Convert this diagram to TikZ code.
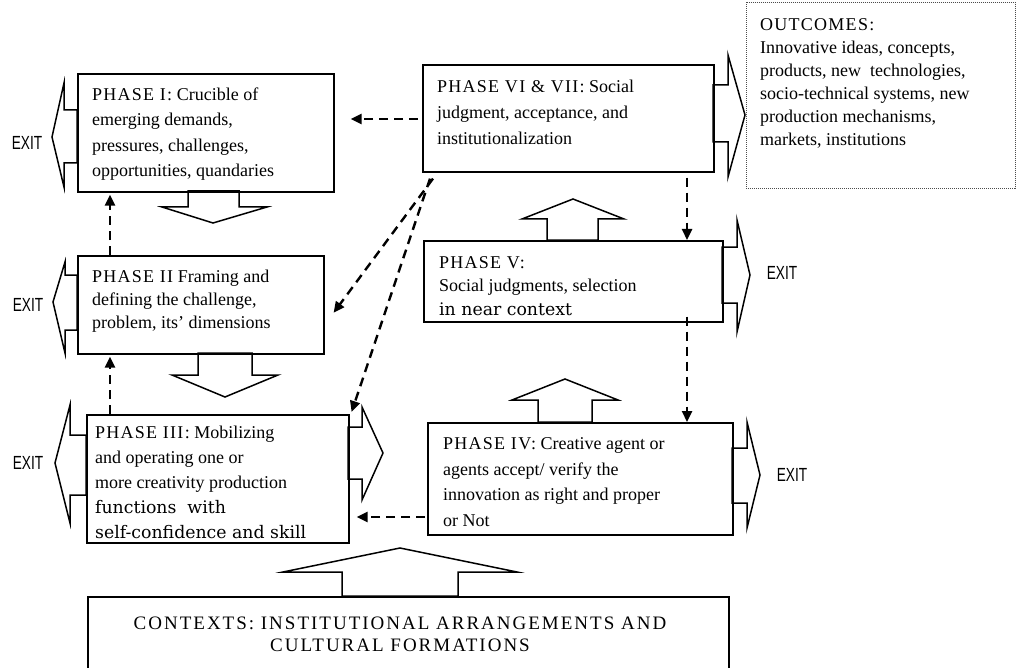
\documentclass[tikz,border=0pt]{standalone}
\usepackage{fontspec}
\newfontfamily\gar{Liberation Serif}
\newfontfamily\exitf{Liberation Sans}
\newfontfamily\capsp[LetterSpace=7]{Liberation Serif}
\newfontfamily\ctxf[LetterSpace=10.5]{Liberation Serif}
\newfontfamily\cent{DejaVu Serif}
\usetikzlibrary{arrows.meta,calc}
\newcommand{\lmline}[1]{{\cent\fontsize{17.3}{25}\selectfont #1}}
\newcommand{\ph}[1]{{\capsp #1}}
\begin{document}
\begin{tikzpicture}[x=1pt,y=-1pt,
  box/.style={draw, line width=1.6pt, inner sep=0pt, anchor=north west},
  outbox/.style={draw=black!70, line width=0.9pt, dash pattern=on 1pt off 1pt, inner sep=0pt, anchor=north west},
  blk/.style={draw, line width=1.5pt, fill=white},
  txt/.style={inner sep=0pt, anchor=west, align=left, font=\gar\fontsize{18}{#1}\selectfont},
  exitlbl/.style={inner sep=0pt, font=\exitf\fontsize{19}{19}\selectfont},
  dasharrow/.style={line width=2.4pt, dash pattern=on 9pt off 6pt, -{Triangle[length=11pt,width=10pt]}},
]
\useasboundingbox (0,0) rectangle (1016,668);
\clip (0,0) rectangle (1016,668);

% block arrows
\draw[blk] (77,110) -- (64,110) -- (64,83) -- (52,137) -- (64,187) -- (64,163) -- (77,163) -- cycle;
\draw[blk] (188,191) -- (188,207) -- (162,207) -- (213,223) -- (267,207) -- (239,207) -- (239,191) -- cycle;
\draw[blk] (77,275) -- (65,275) -- (65,262) -- (53,302) -- (65,353) -- (65,330) -- (77,330) -- cycle;
\draw[blk] (198,353) -- (198,375) -- (172,375) -- (225,397) -- (278,375) -- (252,375) -- (252,353) -- cycle;
\draw[blk] (86,435) -- (70,435) -- (70,405) -- (55,463) -- (70,523) -- (70,495) -- (86,495) -- cycle;
\draw[blk] (348,427) -- (362,427) -- (362,407) -- (383,453) -- (362,500) -- (362,479) -- (348,479) -- cycle;
\draw[blk] (732,448) -- (747,448) -- (747,422) -- (760,475) -- (747,528) -- (747,503) -- (732,503) -- cycle;
\draw[blk] (538,422) -- (538,400) -- (512,400) -- (565,379) -- (618,400) -- (592,400) -- (592,422) -- cycle;
\draw[blk] (722,247) -- (737,247) -- (737,220) -- (750,275) -- (737,332) -- (737,303) -- (722,303) -- cycle;
\draw[blk] (547,240) -- (547,219) -- (522,219) -- (573,199) -- (624,219) -- (598,219) -- (598,240) -- cycle;
\draw[blk] (713,85) -- (728,85) -- (728,55) -- (745,115) -- (728,177) -- (728,142) -- (713,142) -- cycle;
\draw[blk] (342,596) -- (342,572) -- (283,572) -- (400,548) -- (517,572) -- (458,572) -- (458,596) -- cycle;

% boxes
\node[box, minimum width=256pt, minimum height=118pt] (p1) at (77,73) {};
\node[box, minimum width=246pt, minimum height=98pt] (p2) at (77,255) {};
\node[box, minimum width=262pt, minimum height=128pt] (p3) at (86,414) {};
\node[box, minimum width=305pt, minimum height=112pt] (p4) at (427,422) {};
\node[box, minimum width=299pt, minimum height=81pt] (p5) at (423,240) {};
\node[box, minimum width=291pt, minimum height=107pt] (p6) at (422,64) {};
\node[outbox, minimum width=269pt, minimum height=186pt] (out) at (746,2) {};
\node[box, minimum width=641pt, minimum height=120pt] (ctx) at (87,596) {};

% texts
\node[txt=25.5] (p1t) at (92,134) {\ph{PHASE I:} Crucible of\\emerging demands,\\pressures, challenges,\\opportunities, quandaries};
\node[txt=23] (p2t) at (92,301) {\ph{PHASE II} Framing and\\defining the challenge,\\problem, its’ dimensions};
\node[txt=25] (p3t) at (95,482) {\ph{PHASE III:} Mobilizing\\and operating one or\\more creativity production\\\lmline{functions\ \ with}\\\lmline{self-confidence and skill}};
\node[txt=25.5] (p4t) at (443,482) {\ph{PHASE IV:} Creative agent or\\agents accept/ verify the\\innovation as right and proper\\or Not};
\node[txt=23.5] (p5t) at (439,286) {\ph{PHASE V:}\\Social judgments, selection\\\lmline{in near context}};
\node[txt=26] (p6t) at (437,112) {\ph{PHASE VI \& VII:} Social\\judgment, acceptance, and\\institutionalization};
\node[txt=23] (outt) at (760,83) {\ph{OUTCOMES:}\\Innovative ideas, concepts,\\products, new\ \ technologies,\\socio-technical systems, new\\production mechanisms,\\markets, institutions};
\node[inner sep=0pt, align=center, font=\ctxf\fontsize{19}{22}\selectfont] (ctxt) at (400,634) {CONTEXTS: INSTITUTIONAL ARRANGEMENTS AND\\CULTURAL FORMATIONS};

% exit labels
\node[exitlbl] (e1) at (27,143) {\scalebox{0.72}[1]{EXIT}};
\node[exitlbl] (e2) at (28,305) {\scalebox{0.72}[1]{EXIT}};
\node[exitlbl] (e3) at (28,463) {\scalebox{0.72}[1]{EXIT}};
\node[exitlbl] (e5) at (782,273) {\scalebox{0.72}[1]{EXIT}};
\node[exitlbl] (e4) at (792,475) {\scalebox{0.72}[1]{EXIT}};

% dashed connectors
\coordinate (xa) at (110,0);
\coordinate (xb) at (687,0);
\coordinate (ya) at (0,119);
\coordinate (yb) at (0,517);
\draw[dasharrow, shorten >=2pt] (p2.north -| xa) -- (p1.south -| xa);
\draw[dasharrow, shorten >=2pt] (p3.north -| xa) -- (p2.south -| xa);
\draw[dasharrow, shorten <=4pt, shorten >=16pt] (p6.west |- ya) -- (p1.east |- ya);
\draw[dasharrow, shorten <=5pt] (p6.south -| xb) -- (p5.north -| xb);
\draw[dasharrow, shorten <=-6pt] (p5.south -| xb) -- (p4.north -| xb);
\draw[dasharrow, shorten <=2pt, shorten >=7pt] (p4.west |- yb) -- (p3.east |- yb);
\draw[dasharrow] ($(p6.south west)+(11,6)$) -- ($(p2.east)+(9,8)$);
\draw[dasharrow] ($(p6.south west)+(8,6)$) -- ($(p3.north east)+(2,-2)$);
\end{tikzpicture}
\end{document}
